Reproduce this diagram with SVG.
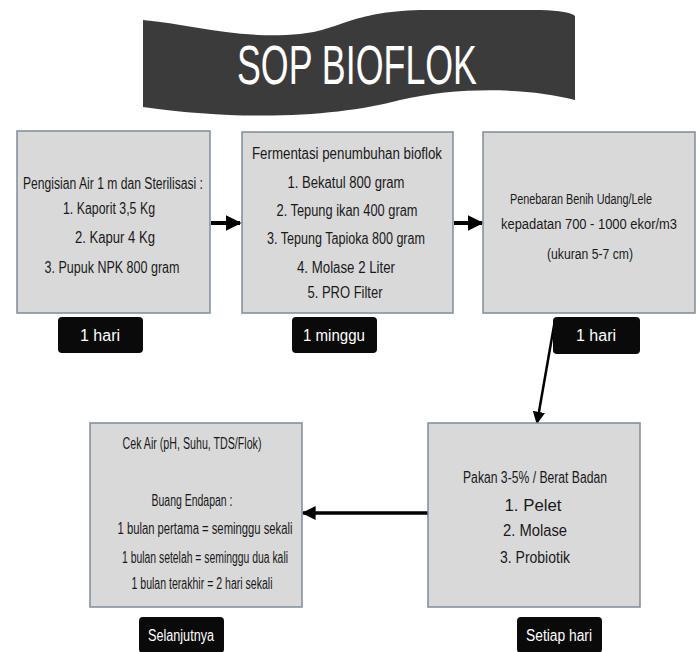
<svg xmlns="http://www.w3.org/2000/svg" width="700" height="652" viewBox="0 0 700 652">
<defs>
<style>
.box{fill:#d9d9d9;stroke:#7f8c99;stroke-width:1.5}
.lbl{fill:#0a0a0a}
.t{font-family:"Liberation Sans Narrow","Liberation Sans",Arial,sans-serif;font-size:16px;fill:#1a1a1a;text-anchor:middle}
.s{font-size:14px}
.lt{font-family:"Liberation Sans Narrow","Liberation Sans",Arial,sans-serif;font-size:16px;fill:#ffffff;text-anchor:middle}
.title{font-family:"Liberation Sans Narrow","Liberation Sans",Arial,sans-serif;font-size:56px;fill:#ffffff;text-anchor:middle}
.c{stroke:#000;fill:none}
</style>
<marker id="ah" viewBox="0 0 10 10" refX="9" refY="5" markerWidth="4" markerHeight="4" orient="auto">
<path d="M0,0 L10,5 L0,10 Z" fill="#000"/>
</marker>
<marker id="ah2" viewBox="0 0 10 10" refX="9" refY="5" markerWidth="5" markerHeight="5" orient="auto">
<path d="M0,0 L10,5 L0,10 Z" fill="#000"/>
</marker>
</defs>
<rect width="700" height="652" fill="#ffffff"/>

<g id="title">
<path d="M143,20 C190,24 240,40 300,34 C340,30 350,12 420,10 L540,10 Q570,11 575,16 L575,100 C530,88 460,86 400,100 C340,116 250,122 143,107 Z" fill="#3b3b3b"/>
<text class="title" x="357" y="84" textLength="240" lengthAdjust="spacingAndGlyphs">SOP BIOFLOK</text>
</g>

<g id="connectors">
<line class="c" x1="211" y1="223" x2="240" y2="223" stroke-width="4" marker-end="url(#ah)"/>
<line class="c" x1="454" y1="223" x2="482" y2="223" stroke-width="4" marker-end="url(#ah)"/>
<line class="c" x1="555" y1="320" x2="537" y2="423" stroke-width="2.5" marker-end="url(#ah2)"/>
<line class="c" x1="428" y1="513" x2="303" y2="513" stroke-width="3.5" marker-end="url(#ah)"/>
</g>

<g id="step1">
<rect class="box" x="17" y="131" width="193" height="182"/>
<text class="t" x="113" y="189" textLength="180" lengthAdjust="spacingAndGlyphs">Pengisian Air 1 m dan Sterilisasi :</text>
<text class="t" x="109" y="214" textLength="92" lengthAdjust="spacingAndGlyphs">1. Kaporit 3,5 Kg</text>
<text class="t" x="115" y="243" textLength="80" lengthAdjust="spacingAndGlyphs">2. Kapur 4 Kg</text>
<text class="t" x="112" y="273" textLength="135" lengthAdjust="spacingAndGlyphs">3. Pupuk NPK 800 gram</text>
</g>
<g id="label1">
<rect class="lbl" x="58" y="317" width="85" height="36" rx="4"/>
<text class="lt" x="100" y="341">1 hari</text>
</g>

<g id="step2">
<rect class="box" x="242" y="132" width="211" height="181"/>
<text class="t" x="347" y="159" textLength="190" lengthAdjust="spacingAndGlyphs">Fermentasi penumbuhan bioflok</text>
<text class="t" x="346" y="188" textLength="117" lengthAdjust="spacingAndGlyphs">1. Bekatul 800 gram</text>
<text class="t" x="347" y="216" textLength="141" lengthAdjust="spacingAndGlyphs">2. Tepung ikan 400 gram</text>
<text class="t" x="346" y="244" textLength="158" lengthAdjust="spacingAndGlyphs">3. Tepung Tapioka 800 gram</text>
<text class="t" x="346" y="273" textLength="98" lengthAdjust="spacingAndGlyphs">4. Molase 2 Liter</text>
<text class="t" x="345" y="298" textLength="75" lengthAdjust="spacingAndGlyphs">5. PRO Filter</text>
</g>
<g id="label2">
<rect class="lbl" x="292" y="317" width="85" height="36" rx="4"/>
<text class="lt" x="334" y="341" textLength="62" lengthAdjust="spacingAndGlyphs">1 minggu</text>
</g>

<g id="step3">
<rect class="box" x="483" y="132" width="212" height="181"/>
<text class="t s" x="581" y="204" textLength="142" lengthAdjust="spacingAndGlyphs">Penebaran Benih Udang/Lele</text>
<text class="t s" x="589" y="229" textLength="176" lengthAdjust="spacingAndGlyphs">kepadatan 700 - 1000 ekor/m3</text>
<text class="t s" x="590" y="259" textLength="86" lengthAdjust="spacingAndGlyphs">(ukuran 5-7 cm)</text>
</g>
<g id="label3">
<rect class="lbl" x="553" y="317" width="87" height="37" rx="4"/>
<text class="lt" x="596" y="341">1 hari</text>
</g>

<g id="step4">
<rect class="box" x="428" y="423" width="212" height="184"/>
<text class="t" x="535" y="483" textLength="144" lengthAdjust="spacingAndGlyphs">Pakan 3-5% / Berat Badan</text>
<text class="t" x="533" y="511" textLength="57" lengthAdjust="spacingAndGlyphs">1. Pelet</text>
<text class="t" x="535" y="536" textLength="64" lengthAdjust="spacingAndGlyphs">2. Molase</text>
<text class="t" x="535" y="563" textLength="70" lengthAdjust="spacingAndGlyphs">3. Probiotik</text>
</g>
<g id="label4">
<rect class="lbl" x="517" y="617" width="85" height="36" rx="4"/>
<text class="lt" x="559" y="641" textLength="66" lengthAdjust="spacingAndGlyphs">Setiap hari</text>
</g>

<g id="step5">
<rect class="box" x="90" y="423" width="212" height="184"/>
<text class="t" x="192" y="449" textLength="139" lengthAdjust="spacingAndGlyphs">Cek Air (pH, Suhu, TDS/Flok)</text>
<text class="t" x="192" y="506" textLength="81" lengthAdjust="spacingAndGlyphs">Buang Endapan :</text>
<text class="t" x="205" y="534" textLength="175" lengthAdjust="spacingAndGlyphs">1 bulan pertama = seminggu sekali</text>
<text class="t" x="205" y="563" textLength="166" lengthAdjust="spacingAndGlyphs">1 bulan setelah = seminggu dua kali</text>
<text class="t" x="202" y="589" textLength="141" lengthAdjust="spacingAndGlyphs">1 bulan terakhir = 2 hari sekali</text>
</g>
<g id="label5">
<rect class="lbl" x="139" y="617" width="85" height="36" rx="4"/>
<text class="lt" x="181" y="641" textLength="66" lengthAdjust="spacingAndGlyphs">Selanjutnya</text>
</g>
</svg>
